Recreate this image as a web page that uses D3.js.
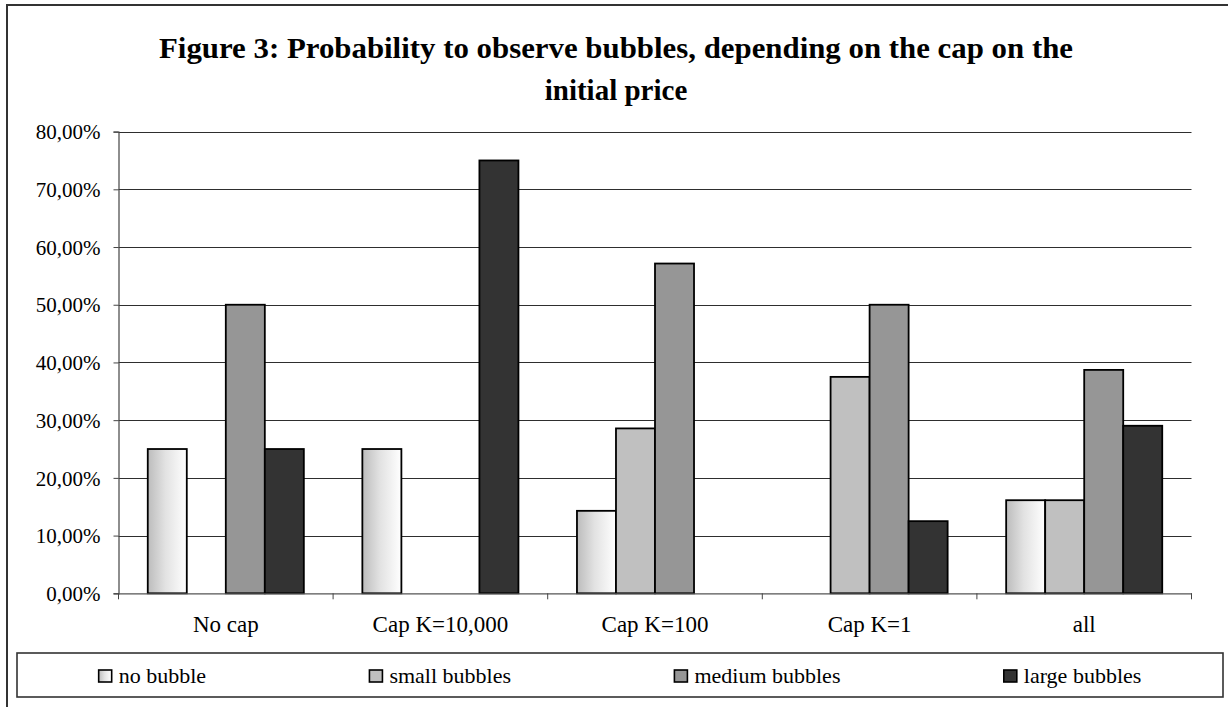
<!DOCTYPE html>
<html>
<head>
<meta charset="utf-8">
<script src="https://cdn.jsdelivr.net/npm/d3@7"></script>
<style>
  html, body { margin: 0; padding: 0; background: #fff; }
  svg { display: block; }
  text { font-family: "Liberation Serif", "Times New Roman", serif; fill: #000; }
</style>
</head>
<body>
<svg id="chart" width="1228" height="707"></svg>
<script>
// ---- data ----
const categories = ["No cap", "Cap K=10,000", "Cap K=100", "Cap K=1", "all"];
const seriesNames = ["no bubble", "small bubbles", "medium bubbles", "large bubbles"];
const noBubble     = [0.25,   0.25,   0.1429, 0.0,   0.1613];
const smallBubbles = [0.0,    0.0,    0.2857, 0.375, 0.1613];
const mediumBubbles= [0.50,   0.0,    0.5714, 0.50,  0.3871];
const largeBubbles = [0.25,   0.75,   0.0,    0.125, 0.2903];
const yTicks = [0, 0.1, 0.2, 0.3, 0.4, 0.5, 0.6, 0.7, 0.8];
const titleLines = ["Figure 3: Probability to observe bubbles, depending on the cap on the", "initial price"];

const seriesValues = [noBubble, smallBubbles, mediumBubbles, largeBubbles];
const fills = ["url(#gradNo)", "#c0c0c0", "#969696", "#333333"];

const svg = d3.select("#chart");

// gradient
const defs = svg.append("defs");
const g = defs.append("linearGradient").attr("id", "gradNo")
  .attr("x1", "0%").attr("x2", "100%").attr("y1", "0%").attr("y2", "0%");
g.append("stop").attr("offset", "0%").attr("stop-color", "#bcbcbc");
g.append("stop").attr("offset", "45%").attr("stop-color", "#e2e2e2");
g.append("stop").attr("offset", "100%").attr("stop-color", "#ffffff");

// outer frame (right & bottom edges fall outside the picture)
svg.append("rect").attr("x", 7).attr("y", 5).attr("width", 1240).attr("height", 720)
  .attr("fill", "none").attr("stroke", "#333").attr("stroke-width", 2);

// title
svg.append("text").attr("x", 616).attr("y", 57.5).attr("text-anchor", "middle")
  .attr("font-size", 29).attr("font-weight", "bold")
  .attr("textLength", 914).attr("lengthAdjust", "spacingAndGlyphs")
  .text(titleLines[0]);
svg.append("text").attr("x", 616).attr("y", 100).attr("text-anchor", "middle")
  .attr("font-size", 29).attr("font-weight", "bold")
  .text(titleLines[1]);

// scales
const plotLeft = 118.5, plotRight = 1191.5, plotTop = 131.6, plotBottom = 593.3;
const x0 = d3.scaleBand().domain(categories).range([plotLeft, plotRight]).padding(0);
const x1 = d3.scaleBand().domain(seriesNames).range([0, x0.bandwidth()])
  .paddingInner(0).paddingOuter(0.75);
const y = d3.scaleLinear().domain([0, 0.8]).range([plotBottom, plotTop]);

// gridlines
svg.append("g").selectAll("line").data(yTicks.filter(d => d > 0)).join("line")
  .attr("x1", plotLeft).attr("x2", plotRight)
  .attr("y1", d => Math.round(y(d)) + 0.5).attr("y2", d => Math.round(y(d)) + 0.5)
  .attr("stroke", "#2e2e2e").attr("stroke-width", 1);

// y axis
const yAxis = d3.axisLeft(y).tickValues(yTicks).tickSize(5).tickPadding(13)
  .tickFormat(d => d3.format(".2f")(d * 100).replace(".", ",") + "%");
const ya = svg.append("g").attr("transform", `translate(${plotLeft},0)`).call(yAxis);
ya.select(".domain").attr("stroke", "#444").attr("stroke-width", 1.2);
ya.selectAll(".tick line").attr("stroke", "#444");
ya.selectAll(".tick text").attr("font-size", 21).attr("font-family", "Liberation Serif")
  .attr("fill", "#000").attr("dy", "0.34em");

// bars
const barG = svg.append("g");
categories.forEach((c, ci) => {
  seriesNames.forEach((s, si) => {
    const v = seriesValues[si][ci];
    if (v <= 0) return;
    barG.append("rect")
      .attr("x", x0(c) + x1(s))
      .attr("y", y(v))
      .attr("width", x1.bandwidth())
      .attr("height", y(0) - y(v))
      .attr("fill", fills[si])
      .attr("stroke", "#000").attr("stroke-width", 1.8);
  });
});

// x axis
const xAxis = d3.axisBottom(x0).tickSize(0).tickPadding(22);
const xa = svg.append("g").attr("transform", `translate(0,${plotBottom})`).call(xAxis);
xa.select(".domain").attr("stroke", "#555").attr("stroke-width", 1.2);
xa.selectAll(".tick text").attr("font-size", 23).attr("font-family", "Liberation Serif")
  .attr("fill", "#000").attr("dy", "0.71em");
// category boundary ticks
const bounds = categories.map(c => x0(c)).concat([plotRight]);
svg.append("g").selectAll("line").data(bounds).join("line")
  .attr("x1", d => d).attr("x2", d => d)
  .attr("y1", plotBottom).attr("y2", plotBottom + 6)
  .attr("stroke", "#444").attr("stroke-width", 1);

// legend
const lgX = 17, lgY = 653, lgW = 1206, lgH = 44;
svg.append("rect").attr("x", lgX).attr("y", lgY).attr("width", lgW).attr("height", lgH)
  .attr("fill", "#fff").attr("stroke", "#333").attr("stroke-width", 1.6);
const lg = svg.append("g");
const items = seriesNames.map((s, i) => {
  const it = lg.append("g");
  it.append("rect").attr("x", 0).attr("y", -6).attr("width", 13).attr("height", 12)
    .attr("fill", fills[i]).attr("stroke", "#000").attr("stroke-width", 1.6);
  const t = it.append("text").attr("x", 20).attr("y", 0).attr("dy", "0.32em")
    .attr("font-size", 22).text(s);
  return { it, w: 20 + t.node().getComputedTextLength() };
});
const totalW = d3.sum(items, d => d.w);
const gap = (lgW - totalW) / items.length;
let cx = lgX + gap / 2;
items.forEach(d => {
  d.it.attr("transform", `translate(${cx},${lgY + lgH / 2 + 1})`);
  cx += d.w + gap;
});
</script>
</body>
</html>
